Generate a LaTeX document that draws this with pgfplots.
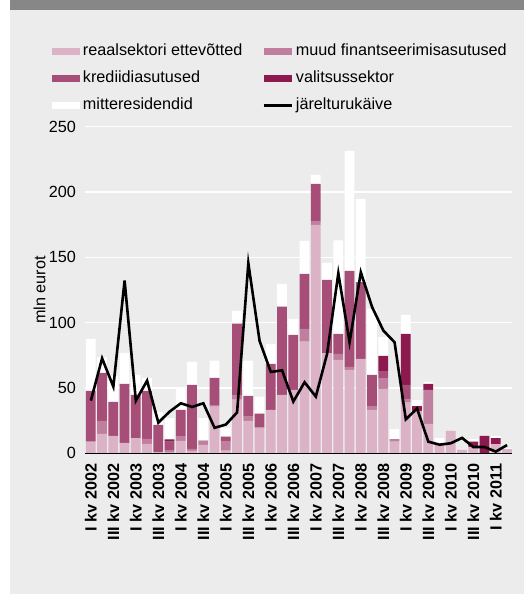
\documentclass[border=0pt]{standalone}
\usepackage{pgfplots}
\pgfplotsset{compat=1.18}
\usepackage{pgfplotstable}
\usepackage{fontspec}
\setmainfont{Liberation Sans}
\definecolor{cBg}{HTML}{EBECEB}
\definecolor{cBand}{HTML}{878787}
\definecolor{cReaal}{HTML}{DBB2C6}
\definecolor{cMuud}{HTML}{C07F9E}
\definecolor{cKred}{HTML}{A64D78}
\definecolor{cVal}{HTML}{8C1A4F}
\newcommand{\chartfont}{\fontsize{16.2}{19}\selectfont}

\pgfplotstableread{
idx r m k v w line
0 9 0 38.7 0 39.8 40.3
1 14.8 10 36.7 0 12 72.7
2 13.3 0 26 0 19.9 51
3 8 0 45.1 0 23.7 132.2
4 11.7 0 33 0 15.3 40.3
5 7.2 3.8 36.7 0 10 55.6
6 1 0 20.7 0 9.9 23.5
7 0.5 2 6.4 1.8 16.3 31.9
8 9.5 3.3 20.4 0 16.1 38.3
9 1.9 1.5 48.9 0 17.6 35.5
10 6.4 2.5 0.8 0 17.3 38.3
11 35.7 1.1 21 0 13.2 19.5
12 2 6.9 3.9 0 6.8 22
13 41 3.2 55.1 0 9.7 31.3
14 24.8 3.3 15.9 0 27 145.5
15 19.7 0 10.6 0 13.1 86
16 33.2 0 35.2 0 15.3 62.3
17 44.7 0 67.6 0 17.4 63.5
18 48.5 0 42.1 0 12.3 39.6
19 85.5 9.7 42.1 0 25.3 54.4
20 174.8 2.6 28.8 0 6.9 43.4
21 76.6 0 56.1 0 13 76.1
22 71.5 4.6 15.3 0 71.6 137.8
23 63.8 2.3 73.5 0 91.9 85
24 72.2 0 58.8 0 63.7 138.6
25 33.2 3 23.8 0 50.5 112
26 49.3 8.2 5.5 11.5 14.5 94
27 8.9 2 0 0 7.7 85
28 38.8 2.8 10.7 39.1 14.5 26
29 32.5 0 0 3.7 4.6 34.3
30 22.5 26 0 4.6 1.5 8.9
31 7.4 0 0 0 4.2 6.6
32 17.1 0 0 0 0 7.7
33 2.6 0 0 0 0 11.8
34 5 0 0 4 1.8 4.8
35 0 0 0 13.3 0 4.8
36 7 0 0 4.6 1.8 1.3
37 3.3 0 0 0 0.6 6.3
}\datatable

\begin{document}
\chartfont
\begin{tikzpicture}[font=\chartfont]
\path[use as bounding box] (0pt,0pt) rectangle (524pt,-594pt);
\fill[white] (0pt,0pt) rectangle (524pt,-594pt);
\fill[cBg] (10pt,0pt) rectangle (524pt,-594pt);
\fill[cBand] (10pt,0pt) rectangle (524pt,-10pt);
\begin{axis}[
  at={(85pt,-453.3pt)}, anchor=south west,
  scale only axis, width=427pt, height=326.6pt,
  xmin=-0.52, xmax=37.44, ymin=0, ymax=250,
  ybar stacked, bar width=9.7pt,
  axis x line*=bottom, axis y line*=left,
  x axis line style={draw=none}, y axis line style={draw=none},
  major tick length=0pt,
  ytick={0,50,...,250},
  ymajorgrids, grid style={white, line width=1.5pt},
  xtick={0,2,...,36},
  xticklabels={I kv 2002,III kv 2002,I kv 2003,III kv 2003,I kv 2004,III kv 2004,I kv 2005,III kv 2005,I kv 2006,III kv 2006,I kv 2007,III kv 2007,I kv 2008,III kv 2008,I kv 2009,III kv 2009,I kv 2010,III kv 2010,I kv 2011},
  xticklabel style={rotate=90, anchor=east, inner sep=0pt, font=\chartfont\bfseries},
  xticklabel shift=10pt,
  yticklabel style={anchor=east, inner sep=0pt, font=\chartfont, /pgf/number format/assume math mode=true},
  yticklabel shift=9pt,
  ylabel={mln eurot},
  ylabel style={at={(axis description cs:-0.092,0.5)}, anchor=south, inner sep=0pt, font=\chartfont},
  legend columns=2,
  legend cell align=left,
  legend style={draw=none, fill=none, inner sep=0pt, outer sep=0pt, font=\chartfont,
    at={(axis description cs:-0.0773,1.253)}, anchor=north west,
    row sep=12.5pt,
    nodes={inner xsep=0pt, inner ysep=0pt, text height=11.5pt, text depth=3pt},
    /tikz/every odd column/.append style={column sep=3pt},
    /tikz/every even column/.append style={column sep=20pt}},
]
\addplot[fill=cReaal, draw=none, legend image code/.code={\fill[cReaal] (0pt,-3.5pt) rectangle (28pt,3.5pt);}] table[x=idx, y=r] {\datatable};
\addlegendentry{reaalsektori ettevõtted}
\addplot[fill=cMuud, draw=none, legend image code/.code={\fill[cMuud] (0pt,-3.5pt) rectangle (28pt,3.5pt);}] table[x=idx, y=m] {\datatable};
\addlegendentry{muud finantseerimisasutused}
\addplot[fill=cKred, draw=none, legend image code/.code={\fill[cKred] (0pt,-3.5pt) rectangle (28pt,3.5pt);}] table[x=idx, y=k] {\datatable};
\addlegendentry{krediidiasutused}
\addplot[fill=cVal, draw=none, legend image code/.code={\fill[cVal] (0pt,-3.5pt) rectangle (28pt,3.5pt);}] table[x=idx, y=v] {\datatable};
\addlegendentry{valitsussektor}
\addplot[fill=white, draw=none, legend image code/.code={\fill[white] (0pt,-3.5pt) rectangle (28pt,3.5pt);}] table[x=idx, y=w] {\datatable};
\addlegendentry{mitteresidendid}
\addlegendimage{black, line width=2.6pt, legend image code/.code={\draw[black, line width=2.6pt] (0pt,0pt) -- (28pt,0pt);}}
\addlegendentry{järelturukäive}
\end{axis}
\begin{axis}[
  at={(85pt,-453.3pt)}, anchor=south west,
  scale only axis, width=427pt, height=326.6pt,
  xmin=-0.52, xmax=37.44, ymin=0, ymax=250,
  axis x line*=bottom, axis y line=none,
  x axis line style={black, line width=1.3pt, -},
  xtick=\empty, ytick=\empty,
]
\addplot[black, line width=2.6pt, sharp plot, mark=none] table[x=idx, y=line] {\datatable};
\end{axis}
\end{tikzpicture}
\end{document}
